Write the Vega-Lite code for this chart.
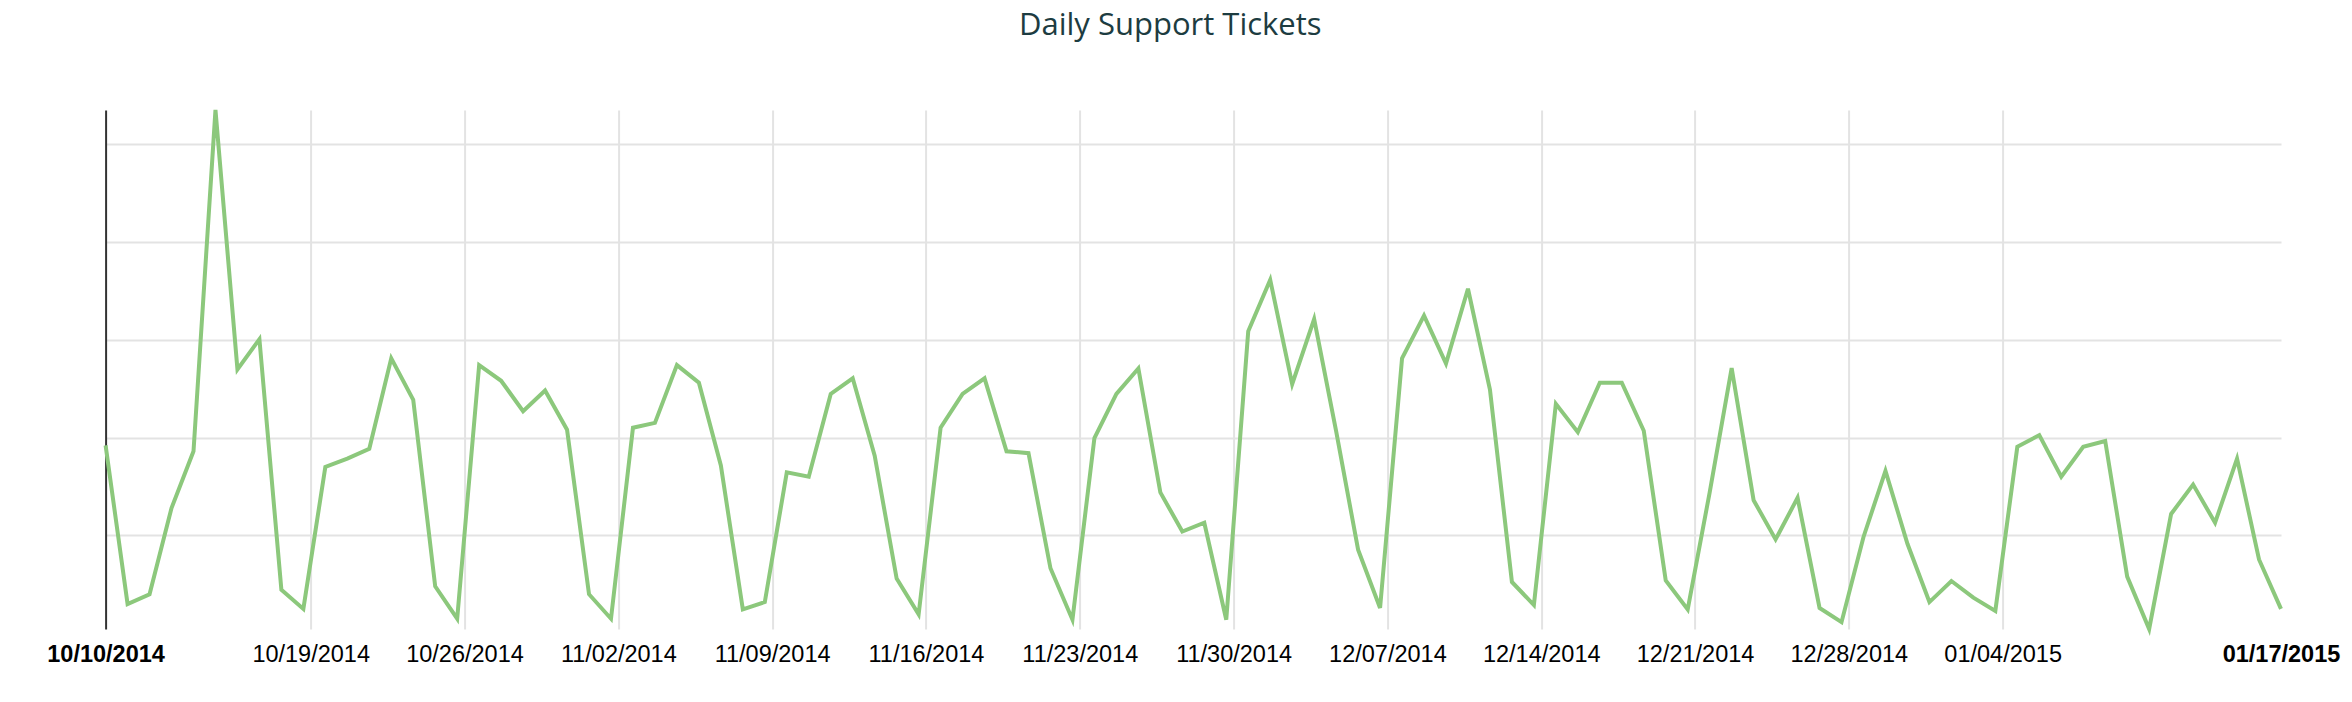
{
  "$schema": "https://vega.github.io/schema/vega-lite/v6.json",
  "autosize": {"type": "none"},
  "padding": {"left": 105.6, "top": 110, "right": 71, "bottom": 73},
  "width": 2175.4,
  "height": 519,
  "background": "#ffffff",
  "title": {
    "text": "Daily Support Tickets",
    "font": "Open Sans",
    "fontSize": 31,
    "fontWeight": "normal",
    "color": "#1d3c41",
    "anchor": "middle",
    "baseline": "alphabetic",
    "offset": 36,
    "dx": -23
  },
  "data": {
    "values": [
      {"date": "2014-10-10", "tickets": 38.4},
      {"date": "2014-10-11", "tickets": 6.0},
      {"date": "2014-10-12", "tickets": 8.0},
      {"date": "2014-10-13", "tickets": 25.6},
      {"date": "2014-10-14", "tickets": 37.2},
      {"date": "2014-10-15", "tickets": 106.9},
      {"date": "2014-10-16", "tickets": 53.9},
      {"date": "2014-10-17", "tickets": 60.1},
      {"date": "2014-10-18", "tickets": 8.9},
      {"date": "2014-10-19", "tickets": 5.0},
      {"date": "2014-10-20", "tickets": 34.0},
      {"date": "2014-10-21", "tickets": 35.7},
      {"date": "2014-10-22", "tickets": 37.7},
      {"date": "2014-10-23", "tickets": 56.2},
      {"date": "2014-10-24", "tickets": 47.7},
      {"date": "2014-10-25", "tickets": 9.6},
      {"date": "2014-10-26", "tickets": 3.0},
      {"date": "2014-10-27", "tickets": 54.8},
      {"date": "2014-10-28", "tickets": 51.6},
      {"date": "2014-10-29", "tickets": 45.4},
      {"date": "2014-10-30", "tickets": 49.6},
      {"date": "2014-10-31", "tickets": 41.6},
      {"date": "2014-11-01", "tickets": 8.0},
      {"date": "2014-11-02", "tickets": 3.0},
      {"date": "2014-11-03", "tickets": 42.0},
      {"date": "2014-11-04", "tickets": 43.0},
      {"date": "2014-11-05", "tickets": 54.8},
      {"date": "2014-11-06", "tickets": 51.2},
      {"date": "2014-11-07", "tickets": 34.3},
      {"date": "2014-11-08", "tickets": 4.9},
      {"date": "2014-11-09", "tickets": 6.4},
      {"date": "2014-11-10", "tickets": 32.9},
      {"date": "2014-11-11", "tickets": 32.0},
      {"date": "2014-11-12", "tickets": 48.9},
      {"date": "2014-11-13", "tickets": 52.1},
      {"date": "2014-11-14", "tickets": 36.3},
      {"date": "2014-11-15", "tickets": 11.2},
      {"date": "2014-11-16", "tickets": 3.9},
      {"date": "2014-11-17", "tickets": 42.0},
      {"date": "2014-11-18", "tickets": 48.9},
      {"date": "2014-11-19", "tickets": 52.1},
      {"date": "2014-11-20", "tickets": 37.2},
      {"date": "2014-11-21", "tickets": 36.8},
      {"date": "2014-11-22", "tickets": 13.3},
      {"date": "2014-11-23", "tickets": 2.8},
      {"date": "2014-11-24", "tickets": 39.9},
      {"date": "2014-11-25", "tickets": 48.9},
      {"date": "2014-11-26", "tickets": 54.1},
      {"date": "2014-11-27", "tickets": 28.8},
      {"date": "2014-11-28", "tickets": 20.8},
      {"date": "2014-11-29", "tickets": 22.6},
      {"date": "2014-11-30", "tickets": 2.8},
      {"date": "2014-12-01", "tickets": 61.7},
      {"date": "2014-12-02", "tickets": 72.2},
      {"date": "2014-12-03", "tickets": 50.9},
      {"date": "2014-12-04", "tickets": 64.2},
      {"date": "2014-12-05", "tickets": 41.3},
      {"date": "2014-12-06", "tickets": 17.1},
      {"date": "2014-12-07", "tickets": 5.2},
      {"date": "2014-12-08", "tickets": 56.2},
      {"date": "2014-12-09", "tickets": 64.9},
      {"date": "2014-12-10", "tickets": 55.1},
      {"date": "2014-12-11", "tickets": 70.4},
      {"date": "2014-12-12", "tickets": 49.8},
      {"date": "2014-12-13", "tickets": 10.5},
      {"date": "2014-12-14", "tickets": 5.8},
      {"date": "2014-12-15", "tickets": 46.9},
      {"date": "2014-12-16", "tickets": 41.1},
      {"date": "2014-12-17", "tickets": 51.2},
      {"date": "2014-12-18", "tickets": 51.2},
      {"date": "2014-12-19", "tickets": 41.4},
      {"date": "2014-12-20", "tickets": 10.8},
      {"date": "2014-12-21", "tickets": 4.9},
      {"date": "2014-12-22", "tickets": 28.8},
      {"date": "2014-12-23", "tickets": 54.2},
      {"date": "2014-12-24", "tickets": 27.2},
      {"date": "2014-12-25", "tickets": 19.2},
      {"date": "2014-12-26", "tickets": 27.7},
      {"date": "2014-12-27", "tickets": 5.2},
      {"date": "2014-12-28", "tickets": 2.3},
      {"date": "2014-12-29", "tickets": 19.7},
      {"date": "2014-12-30", "tickets": 33.2},
      {"date": "2014-12-31", "tickets": 18.3},
      {"date": "2015-01-01", "tickets": 6.4},
      {"date": "2015-01-02", "tickets": 10.7},
      {"date": "2015-01-03", "tickets": 7.3},
      {"date": "2015-01-04", "tickets": 4.6},
      {"date": "2015-01-05", "tickets": 38.1},
      {"date": "2015-01-06", "tickets": 40.5},
      {"date": "2015-01-07", "tickets": 32.0},
      {"date": "2015-01-08", "tickets": 38.1},
      {"date": "2015-01-09", "tickets": 39.3},
      {"date": "2015-01-10", "tickets": 11.6},
      {"date": "2015-01-11", "tickets": 0.9},
      {"date": "2015-01-12", "tickets": 24.4},
      {"date": "2015-01-13", "tickets": 30.4},
      {"date": "2015-01-14", "tickets": 22.6},
      {"date": "2015-01-15", "tickets": 35.7},
      {"date": "2015-01-16", "tickets": 15.1},
      {"date": "2015-01-17", "tickets": 5.0}
    ]
  },
  "mark": {"type": "line", "color": "#8cc87c", "strokeWidth": 4, "strokeJoin": "miter", "clip": false},
  "encoding": {
    "x": {
      "field": "date",
      "type": "temporal",
      "scale": {"type": "utc", "nice": false},
      "axis": {
        "title": null,
        "domain": false,
        "ticks": false,
        "grid": true,
        "gridColor": {"condition": {"test": "datum.value < utc(2014,9,11) || datum.value > utc(2015,0,16)", "value": "transparent"}, "value": "#e3e3e3"},
        "gridWidth": 2,
        "values": [
          {"year": 2014, "month": 10, "date": 10, "utc": true},
          {"year": 2014, "month": 10, "date": 19, "hours": 8, "utc": true},
          {"year": 2014, "month": 10, "date": 26, "hours": 8, "utc": true},
          {"year": 2014, "month": 11, "date": 2, "hours": 8, "utc": true},
          {"year": 2014, "month": 11, "date": 9, "hours": 8, "utc": true},
          {"year": 2014, "month": 11, "date": 16, "hours": 8, "utc": true},
          {"year": 2014, "month": 11, "date": 23, "hours": 8, "utc": true},
          {"year": 2014, "month": 11, "date": 30, "hours": 8, "utc": true},
          {"year": 2014, "month": 12, "date": 7, "hours": 8, "utc": true},
          {"year": 2014, "month": 12, "date": 14, "hours": 8, "utc": true},
          {"year": 2014, "month": 12, "date": 21, "hours": 8, "utc": true},
          {"year": 2014, "month": 12, "date": 28, "hours": 8, "utc": true},
          {"year": 2015, "month": 1, "date": 4, "hours": 8, "utc": true},
          {"year": 2015, "month": 1, "date": 17, "utc": true}
        ],
        "format": "%m/%d/%Y",
        "labelFont": "Liberation Sans",
        "labelFontSize": 23.5,
        "labelColor": "#000000",
        "labelFontWeight": {"condition": {"test": "datum.value < utc(2014,9,11) || datum.value > utc(2015,0,16)", "value": "bold"}, "value": "normal"},
        "labelBaseline": "alphabetic",
        "labelPadding": 32,
        "labelOverlap": false,
        "labelFlush": false,
        "labelBound": false
      }
    },
    "y": {
      "field": "tickets",
      "type": "quantitative",
      "scale": {"domain": [0.9, 106.9], "nice": false, "zero": false},
      "axis": {
        "title": null,
        "labels": false,
        "ticks": false,
        "domain": true,
        "domainColor": "#333333",
        "domainWidth": 2,
        "grid": true,
        "gridColor": "#e3e3e3",
        "gridWidth": 2,
        "values": [20, 40, 60, 80, 100]
      }
    }
  },
  "config": {
    "view": {"stroke": null}
  }
}
